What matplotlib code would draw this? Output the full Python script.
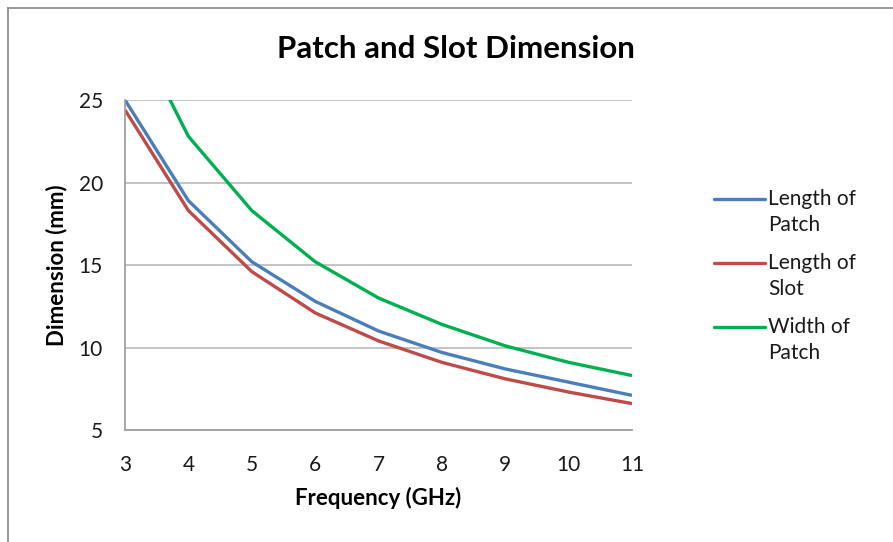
import matplotlib
matplotlib.use("Agg")
import matplotlib.pyplot as plt
from matplotlib.lines import Line2D

freq = [3, 4, 5, 6, 7, 8, 9, 10, 11]
length_patch = [25.0, 18.9, 15.2, 12.8, 11.0, 9.7, 8.7, 7.9, 7.1]
length_slot = [24.4, 18.3, 14.6, 12.1, 10.4, 9.1, 8.1, 7.3, 6.6]
width_patch = [30.4, 22.8, 18.3, 15.2, 13.0, 11.4, 10.1, 9.1, 8.3]
labels = ["Length of\nPatch", "Length of\nSlot", "Width of\nPatch"]
colors = ["#4A7EBB", "#BE4B48", "#00B050"]
yticks = [5, 10, 15, 20, 25]

plt.rcParams['font.family'] = ['Lato', 'DejaVu Sans']

W, H = 893, 542
fig = plt.figure(figsize=(W/100, H/100), dpi=100)
ax = fig.add_axes([125/W, 1-430/H, (632-125)/W, (430-100)/H])

series = [length_patch, length_slot, width_patch]
for data, lab, c in zip(series, labels, colors):
    ax.plot(freq, data, color=c, lw=2.4, label=lab, solid_capstyle='butt')

ax.set_xlim(3, 11)
ax.set_ylim(5, 25)
ax.set_xticks(freq)
ax.set_yticks(yticks)
ax.grid(axis='y', color='#BFBFBF', lw=1.3)
ax.set_axisbelow(True)
for s in ['top', 'right']:
    ax.spines[s].set_visible(False)
for s in ['left', 'bottom']:
    ax.spines[s].set_color('#A0A0A0')
    ax.spines[s].set_linewidth(1.3)
ax.tick_params(axis='both', length=0, labelsize=15, colors='#1a1a1a')
ax.tick_params(axis='x', pad=18)
ax.tick_params(axis='y', pad=16)

ax.set_xlabel("Frequency (GHz)", fontsize=16, fontweight='bold', va='center')
ax.xaxis.set_label_coords(0.5, (430-498)/330)
ax.set_ylabel("Dimension (mm)", fontsize=16, fontweight='bold', va='center')
ax.yaxis.set_label_coords((57-125)/507, 0.5)

fig.text(456/W, 1-49/H, "Patch and Slot Dimension", ha='center', va='center',
         fontsize=22.5, fontweight='bold')

# legend (handle aligned with first text line, Excel-style)
handles = ax.get_lines()
for i, (h, lab) in enumerate(zip(handles, labels)):
    yp = 199 + 64 * i
    fig.add_artist(Line2D([714/W, 765/W], [1-yp/H, 1-yp/H], transform=fig.transFigure,
                          color=h.get_color(), lw=2.4, solid_capstyle='round'))
    fig.text(768/W, 1-(yp-10)/H, lab, ha='left', va='top', fontsize=15,
             linespacing=1.4, color='#1a1a1a')

# chart border (top and left visible)
fig.add_artist(Line2D([8/W, 1.0], [1-8/H, 1-8/H], transform=fig.transFigure,
                      color='#888888', lw=1.2))
fig.add_artist(Line2D([8/W, 8/W], [0.0, 1-8/H], transform=fig.transFigure,
                      color='#888888', lw=1.2))

fig.savefig("out.png", dpi=100)
